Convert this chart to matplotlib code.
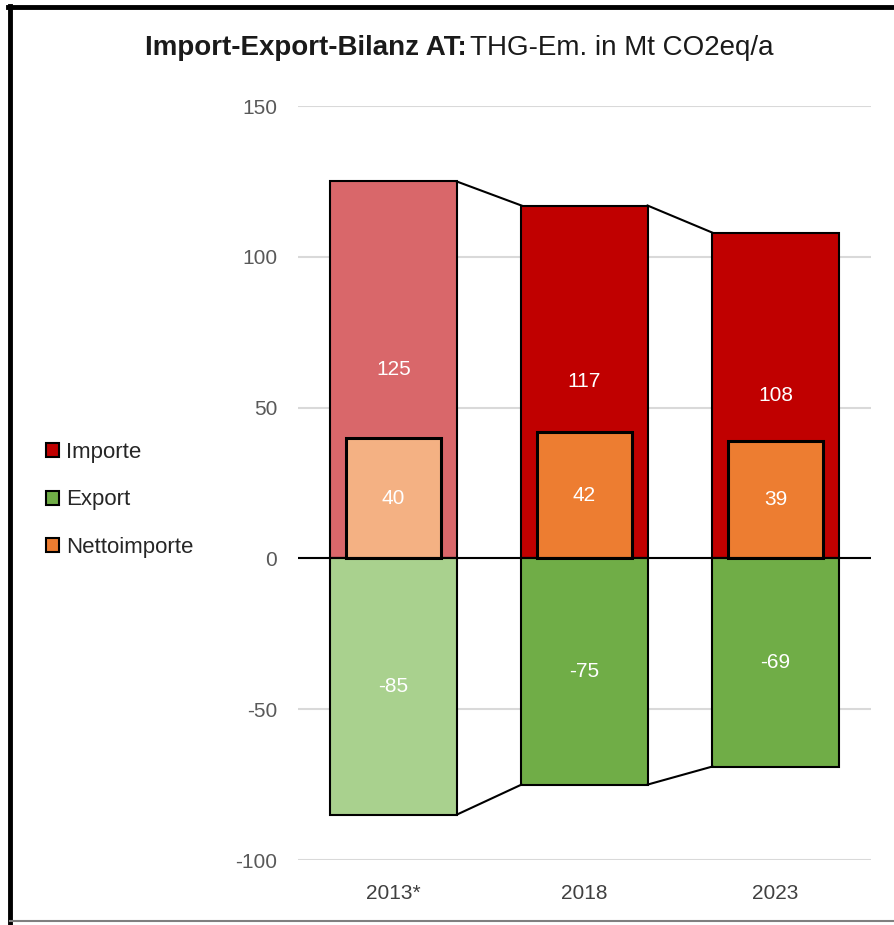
import matplotlib.pyplot as plt
from matplotlib.patches import Patch
from matplotlib.lines import Line2D
import numpy as np

jahre = ['2013*', '2018', '2023']
importe = [125, 117, 108]
exporte = [-85, -75, -69]
netto = [40, 42, 39]

imp_farben = ['#D9676A', '#C00000', '#C00000']
exp_farben = ['#A9D18E', '#70AD47', '#70AD47']
net_farben = ['#F4B183', '#ED7D31', '#ED7D31']

plt.rcParams['font.family'] = ['Liberation Sans', 'DejaVu Sans']
plt.rcParams['axes.unicode_minus'] = False

fig = plt.figure(figsize=(8.94, 9.25), dpi=100)
ax = fig.add_axes([298/894, 1-860/925, 573/894, (860-106)/925])

x = np.arange(len(jahre))
bw = 0.66
nw = 0.50

ax.bar(x, importe, bw, color=imp_farben, edgecolor='black', linewidth=1.5, zorder=2)
ax.bar(x, exporte, bw, color=exp_farben, edgecolor='black', linewidth=1.5, zorder=2)
ax.bar(x, netto, nw, color=net_farben, edgecolor='black', linewidth=2.2, zorder=3)

# Verbindungslinien zwischen den Balken
for i in range(len(jahre) - 1):
    ax.plot([x[i] + bw/2, x[i+1] - bw/2], [importe[i], importe[i+1]], color='black', lw=1.5, zorder=2)
    ax.plot([x[i] + bw/2, x[i+1] - bw/2], [exporte[i], exporte[i+1]], color='black', lw=1.5, zorder=2)

for i in range(len(jahre)):
    ax.text(x[i], importe[i]/2, str(importe[i]), ha='center', va='center', color='white', fontsize=15, zorder=4)
    ax.text(x[i], netto[i]/2, str(netto[i]), ha='center', va='center', color='white', fontsize=15, zorder=4)
    ax.text(x[i], exporte[i]/2, str(exporte[i]), ha='center', va='center', color='white', fontsize=15, zorder=4)

ax.axhline(0, color='black', lw=1.5, zorder=4)
ax.set_xlim(-0.5, 2.5)
ax.set_ylim(-100, 150)
ax.set_yticks([-100, -50, 0, 50, 100, 150])
ax.yaxis.grid(True, color='#D9D9D9', lw=1.5, zorder=0)
ax.set_axisbelow(True)
for s in ax.spines.values():
    s.set_visible(False)
ax.set_xticks(x)
ax.set_xticklabels(jahre)
ax.tick_params(axis='both', length=0, labelsize=15, colors='#595959')
ax.tick_params(axis='x', colors='#404040')
ax.tick_params(axis='y', pad=15)
ax.tick_params(axis='x', pad=17)
ax.set_facecolor('none')

fig.text(0.522, 1-48/925, 'Import-Export-Bilanz AT:', ha='right', va='center',
         fontsize=20, fontweight='bold', color='#1a1a1a')
fig.text(0.526, 1-48/925, 'THG-Em. in Mt CO2eq/a', ha='left', va='center',
         fontsize=20, color='#1a1a1a')

handles = [Patch(facecolor='#C00000', edgecolor='black', lw=1.5),
           Patch(facecolor='#70AD47', edgecolor='black', lw=1.5),
           Patch(facecolor='#ED7D31', edgecolor='black', lw=1.5)]
leg = fig.legend(handles, ['Importe', 'Export', 'Nettoimporte'], loc='center left',
                 bbox_to_anchor=(26/894, 1-500/925), frameon=False, fontsize=16,
                 handlelength=0.6, handleheight=0.6, handletextpad=0.3, labelspacing=1.2)
for t in leg.get_texts():
    t.set_color('#262626')

# Rahmen des Screenshots
fig.add_artist(Line2D([10/894, 10/894], [0, 1-6/925], color='black', lw=3.5))
fig.add_artist(Line2D([8/894, 1], [1-7/925, 1-7/925], color='black', lw=3.5))
fig.add_artist(Line2D([10/894, 1], [1-921/925, 1-921/925], color='#808080', lw=1.5))

fig.savefig('out.png', dpi=100)
